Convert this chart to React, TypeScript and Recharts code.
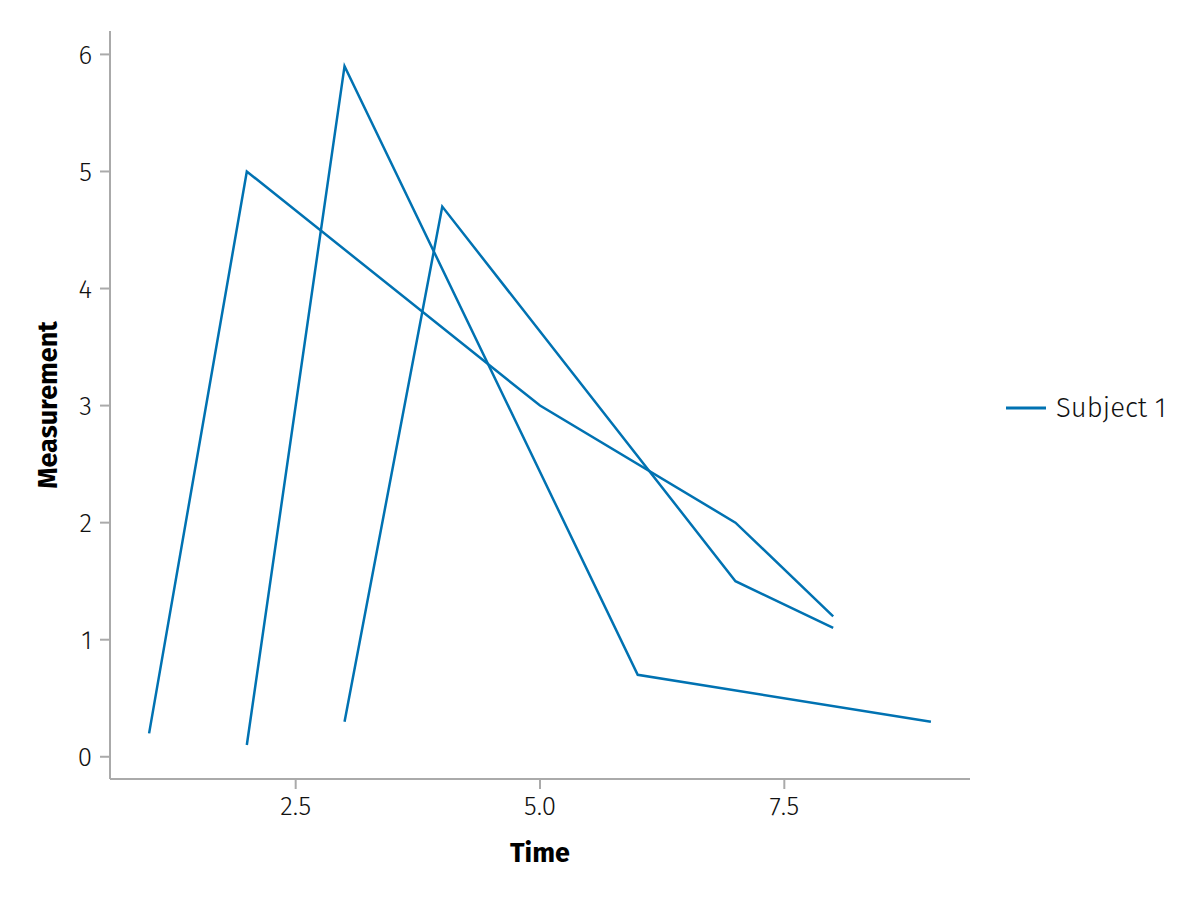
import { LineChart, Line, XAxis, YAxis } from 'recharts';

const subjectName = 'Subject 1';
const lineColor = '#0072B2';

// three runs of the same subject, all drawn with one colour
const runA = [
  { time: 1, value: 0.2 },
  { time: 2, value: 5.0 },
  { time: 5, value: 3.0 },
  { time: 7, value: 2.0 },
  { time: 8, value: 1.2 },
];
const runB = [
  { time: 2, value: 0.1 },
  { time: 3, value: 5.9 },
  { time: 6, value: 0.7 },
  { time: 9, value: 0.3 },
];
const runC = [
  { time: 3, value: 0.3 },
  { time: 4, value: 4.7 },
  { time: 7, value: 1.5 },
  { time: 8, value: 1.1 },
];

const xTicks = [2.5, 5.0, 7.5];
const yTicks = [0, 1, 2, 3, 4, 5, 6];

const font = '"Fira Sans", "Noto Sans", Lato, sans-serif';
const axisGray = '#aaaaaa';

function SubjectLegend() {
  return (
    <div
      style={{
        position: 'absolute',
        left: 1006,
        top: 391,
        display: 'flex',
        alignItems: 'center',
        fontFamily: font,
        fontWeight: 300,
        fontSize: 27.5,
        color: '#111',
      }}
    >
      <svg width={40} height={4} style={{ marginRight: 10 }}>
        <line x1={0} y1={2} x2={40} y2={2} stroke={lineColor} strokeWidth={3} />
      </svg>
      <span>{subjectName}</span>
    </div>
  );
}

export default function App() {
  const tickStyle = { fontFamily: font, fontWeight: 300, fontSize: 26, fill: '#111' };
  return (
    <div style={{ position: 'relative', width: 1200, height: 900, background: '#fff' }}>
      <style>{`body{margin:0}`}</style>
      <LineChart width={1200} height={900} margin={{ top: 31, right: 230, bottom: 0, left: 0 }}>
        <XAxis
          type="number"
          dataKey="time"
          domain={[0.6, 9.4]}
          ticks={xTicks}
          tickFormatter={(v: number) => v.toFixed(1)}
          height={121}
          stroke={axisGray}
          strokeWidth={2}
          tickSize={10}
          tickMargin={8}
          tick={tickStyle}
          allowDataOverflow
          label={{ value: 'Time', position: 'insideBottom', offset: 38, style: { fontFamily: font, fontWeight: 700, fontSize: 27, fill: '#000' } }}
        />
        <YAxis
          type="number"
          domain={[-0.19, 6.2]}
          ticks={yTicks}
          width={110}
          stroke={axisGray}
          strokeWidth={2}
          tickSize={10}
          tickMargin={8}
          tick={tickStyle}
          allowDataOverflow
          label={{ value: 'Measurement', angle: -90, position: 'insideLeft', offset: 47, style: { textAnchor: 'middle', fontFamily: font, fontWeight: 700, fontSize: 27, fill: '#000' } }}
        />
        <Line data={runA} dataKey="value" name={subjectName} stroke={lineColor} strokeWidth={2.5} dot={false} isAnimationActive={false} />
        <Line data={runB} dataKey="value" name={subjectName} stroke={lineColor} strokeWidth={2.5} dot={false} isAnimationActive={false} />
        <Line data={runC} dataKey="value" name={subjectName} stroke={lineColor} strokeWidth={2.5} dot={false} isAnimationActive={false} />
      </LineChart>
      <SubjectLegend />
    </div>
  );
}
